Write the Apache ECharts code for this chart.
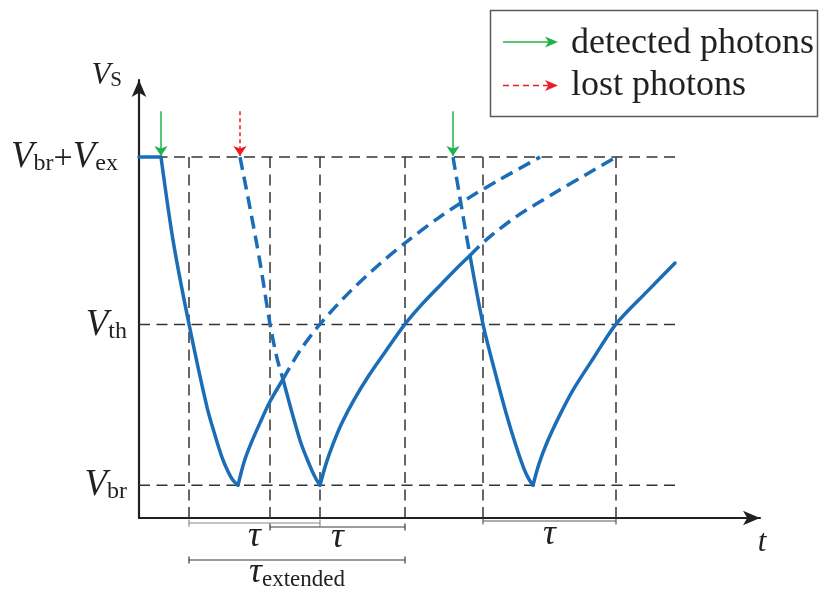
<!DOCTYPE html>
<html>
<head>
<meta charset="utf-8">
<script src="https://cdn.jsdelivr.net/npm/echarts@6/dist/echarts.min.js"></script>
<style>
  html, body { margin: 0; padding: 0; background: #ffffff; }
  #chart { width: 819px; height: 589px; }
</style>
</head>
<body>
<div id="chart"></div>
<script>
// SPAD bias voltage V_S versus time, normalised so that V_br = 0 and V_br + V_ex = 1.
// Time is in arbitrary units.

// Voltage levels marked on the vertical axis and their labels
const levelValues = [0, 0.49, 1];
const levelLabels = [
  '{v|V}{s|br}',
  '{v|V}{s|th}',
  '{v|V}{s|br}{p|+}{v|V}{e|ex}'
];

// Solid trace: idle level, avalanche discharges and recharges
const idleLevel = [[0, 1], [2.2, 1]];
const discharge1 = [[2.2, 1], [3.4, 0.747], [5.0, 0.491], [6.8, 0.238], [7.6, 0.152], [8.3, 0.085],
                    [8.9, 0.042], [9.4, 0.015], [9.9, 0]];
const recharge1 = [[9.9, 0], [10.5, 0.07], [11.1, 0.12], [12.1, 0.19], [13.1, 0.255], [14.4, 0.323]];
const discharge2 = [[14.4, 0.323], [16.1, 0.137], [17.1, 0.058], [17.6, 0.025], [18.1, 0]];
const recharge2 = [[18.1, 0], [18.7, 0.065], [19.4, 0.125], [20.3, 0.19], [21.5, 0.26], [23.0, 0.335],
                   [24.7, 0.41], [26.6, 0.491], [28.4, 0.555], [30.3, 0.615], [32.0, 0.668], [33.1, 0.70]];
const discharge3 = [[33.1, 0.70], [34.4, 0.491], [35.6, 0.345], [36.8, 0.21], [37.7, 0.12], [38.5, 0.05],
                    [39.0, 0.018], [39.4, 0]];
const recharge3 = [[39.4, 0], [40.0, 0.065], [40.8, 0.13], [42.1, 0.215], [43.4, 0.29], [45.5, 0.39],
                   [47.7, 0.491], [50.8, 0.59], [53.6, 0.677]];

// Dashed trace: courses that would have been followed without the interrupting event
const lostDischarge = [[10.1, 1], [11.1, 0.845], [12.1, 0.680], [13.1, 0.491], [13.8, 0.387], [14.4, 0.323]];
const recharge1Free = [[14.4, 0.323], [16.1, 0.41], [18.1, 0.491], [21.1, 0.59], [24.1, 0.675], [27.1, 0.75],
                       [30.1, 0.818], [33.1, 0.878], [36.1, 0.932], [40.1, 1]];
const discharge3Start = [[31.4, 1], [32.1, 0.875], [32.7, 0.768], [33.1, 0.70]];
const recharge2Free = [[33.1, 0.70], [34.8, 0.75], [37.8, 0.82], [41.8, 0.895], [44.6, 0.945], [47.7, 1]];

// Photon arrival times
const detectedPhotons = [2.2, 31.4];
const lostPhotons = [10.1];

// Threshold crossing times (vertical guides) and the level guides' extent
const crossingTimes = [5.0, 13.1, 18.1, 26.6, 34.4, 47.7];
const levelGuideEnd = 53.8;

// Dead-time spans drawn under the time axis
const tauSpans = [[5.0, 18.1], [13.1, 26.6], [5.0, 26.6], [34.4, 47.7]];
const tauLabels = ['{t|τ}', '{t|τ}', '{t|τ}{x|extended}', '{t|τ}'];

// Axis extents
const tMin = 0, tMax = 62.1;
const vMin = -0.1, vMax = 1.235;

const BLUE = '#1a6db6';
const GREEN = '#22b24c';
const RED = '#ed1c24';
const INK = '#231f20';
const GUIDE = '#333333';
const SERIF = 'Liberation Serif';

const solidPieces = [idleLevel, discharge1, recharge1, discharge2, recharge2, discharge3, recharge3];
const dashedPieces = [lostDischarge, recharge1Free, discharge3Start, recharge2Free];

const series = [];

// Level guides
levelValues.forEach(v => {
  series.push({
    type: 'line', data: [[tMin, v], [levelGuideEnd, v]], showSymbol: false, silent: true, z: 1,
    lineStyle: { color: GUIDE, width: 1.5, type: [11, 6.5] }
  });
});
// Threshold-crossing guides
crossingTimes.forEach(t => {
  series.push({
    type: 'line', data: [[t, 1], [t, vMin]], showSymbol: false, silent: true, z: 1,
    lineStyle: { color: GUIDE, width: 1.5, type: [11, 6.5] }
  });
});
// Voltage trace
solidPieces.forEach((d, i) => {
  series.push({
    type: 'line', data: d, showSymbol: false, smooth: i === 0 ? false : 0.3, z: 3,
    lineStyle: { color: BLUE, width: 3.5, cap: 'round', join: 'round' }
  });
});
dashedPieces.forEach(d => {
  series.push({
    type: 'line', data: d, showSymbol: false, smooth: 0.3, z: 3,
    lineStyle: { color: BLUE, width: 3.5, type: [13, 7] }
  });
});
// Photon arrival arrows
const arrowFrom = 1.14, arrowTo = 1.003;
series.push({
  type: 'lines', coordinateSystem: 'cartesian2d', z: 4,
  symbol: ['none', 'arrow'], symbolSize: 10,
  lineStyle: { color: GREEN, width: 1.5, opacity: 1, curveness: 0 },
  data: detectedPhotons.map(t => ({ coords: [[t, arrowFrom], [t, arrowTo]] }))
});
series.push({
  type: 'lines', coordinateSystem: 'cartesian2d', z: 4,
  symbol: ['none', 'arrow'], symbolSize: 10,
  lineStyle: { color: RED, width: 1.5, opacity: 1, curveness: 0, type: [4, 3] },
  data: lostPhotons.map(t => ({ coords: [[t, arrowFrom], [t, arrowTo]] }))
});

const labelRich = {
  v: { fontFamily: SERIF, fontStyle: 'italic', fontSize: 37, color: INK, lineHeight: 38, verticalAlign: 'bottom' },
  s: { fontFamily: SERIF, fontSize: 24, color: INK, lineHeight: 24, verticalAlign: 'bottom' },
  e: { fontFamily: SERIF, fontSize: 24, color: INK, lineHeight: 24, verticalAlign: 'bottom', padding: [0, 9, 0, 0] },
  p: { fontFamily: SERIF, fontSize: 34, color: INK, lineHeight: 38, verticalAlign: 'bottom' }
};

const option = {
  animation: false,
  backgroundColor: '#ffffff',
  grid: { left: 139, right: 59, top: 80, bottom: 71, containLabel: false },
  xAxis: {
    type: 'value', min: tMin, max: tMax,
    name: 't', nameLocation: 'end', nameGap: 2,
    nameTextStyle: { fontFamily: SERIF, fontStyle: 'italic', fontSize: 31, color: INK,
                     align: 'center', verticalAlign: 'top', padding: [9, 0, 0, 0] },
    axisLine: { show: true, onZero: false, symbol: ['none', 'arrow'], symbolSize: [11, 17],
                lineStyle: { color: INK, width: 2.2 } },
    axisTick: { show: false }, axisLabel: { show: false }, splitLine: { show: false }
  },
  yAxis: {
    type: 'value', min: vMin, max: vMax,
    name: '{v|V}{s|S}', nameLocation: 'end', nameGap: -11,
    nameTextStyle: { align: 'right', verticalAlign: 'bottom', padding: [0, 17, 0, 0],
      rich: {
        v: { fontFamily: SERIF, fontStyle: 'italic', fontSize: 31, color: INK, lineHeight: 32, verticalAlign: 'bottom' },
        s: { fontFamily: SERIF, fontSize: 21, color: INK, lineHeight: 26, verticalAlign: 'bottom' }
      } },
    axisLine: { show: true, onZero: false, symbol: ['none', 'arrow'], symbolSize: [11, 17],
                lineStyle: { color: INK, width: 2.2 } },
    axisTick: { show: false }, splitLine: { show: false },
    axisLabel: {
      show: true, margin: 12, customValues: levelValues,
      formatter: v => levelLabels[levelValues.indexOf(v)] || '',
      rich: labelRich
    }
  },
  series: series
};

const chart = echarts.init(document.getElementById('chart'), null, { renderer: 'canvas' });
chart.setOption(option);

// Dead-time brackets below the time axis and the legend box
const toPx = (t, v) => chart.convertToPixel({ gridIndex: 0 }, [t, v]);
const axisY = toPx(tMin, vMin)[1];
const bracketRows = [
  { dy: 5, labelDy: 21, color: '#8a8a8a' },
  { dy: 9, labelDy: 22, color: '#3a3a3a' },
  { dy: 42, labelDy: 57, color: '#3a3a3a' },
  { dy: 3, labelDy: 19, color: '#5a5a5a' }
];
const graphics = [];
tauSpans.forEach((span, i) => {
  const x0 = toPx(span[0], 0)[0], x1 = toPx(span[1], 0)[0];
  const row = bracketRows[i];
  const y = axisY + row.dy;
  const ls = { stroke: row.color, lineWidth: 1.2 };
  graphics.push({ type: 'line', shape: { x1: x0, y1: y, x2: x1, y2: y }, style: ls, silent: true });
  graphics.push({ type: 'line', shape: { x1: x0, y1: y - 3.5, x2: x0, y2: y + 3.5 }, style: ls, silent: true });
  graphics.push({ type: 'line', shape: { x1: x1, y1: y - 3.5, x2: x1, y2: y + 3.5 }, style: ls, silent: true });
  graphics.push({
    type: 'text', x: (x0 + x1) / 2, y: axisY + row.labelDy, silent: true,
    style: {
      text: tauLabels[i], align: 'center', verticalAlign: 'middle',
      rich: {
        t: { fontFamily: SERIF, fontStyle: 'italic', fontSize: 36, fill: INK, lineHeight: 32, verticalAlign: 'bottom' },
        x: { fontFamily: SERIF, fontSize: 23, fill: INK, lineHeight: 24, verticalAlign: 'bottom' }
      }
    }
  });
});

// Legend
graphics.push({ type: 'rect', shape: { x: 490.5, y: 10.5, width: 327, height: 106 },
  style: { fill: '#ffffff', stroke: '#5a5a5a', lineWidth: 1.5 }, z: 10 });
const legendItems = [
  { y: 42, color: GREEN, dash: null, text: 'detected photons', textY: 44 },
  { y: 85.5, color: RED, dash: [6, 4], text: 'lost photons', textY: 86 }
];
legendItems.forEach(it => {
  graphics.push({ type: 'line', shape: { x1: 503, y1: it.y, x2: 550, y2: it.y }, z: 11,
    style: { stroke: it.color, lineWidth: 1.7, lineDash: it.dash } });
  graphics.push({ type: 'polygon', z: 11,
    shape: { points: [[558, it.y], [545, it.y - 5.5], [548.5, it.y], [545, it.y + 5.5]] },
    style: { fill: it.color } });
  graphics.push({ type: 'text', x: 571, y: it.textY, z: 11,
    style: { text: it.text, fontFamily: SERIF, fontSize: 36, fill: INK, align: 'left', verticalAlign: 'middle' } });
});

chart.setOption({ graphic: graphics });
</script>
</body>
</html>
